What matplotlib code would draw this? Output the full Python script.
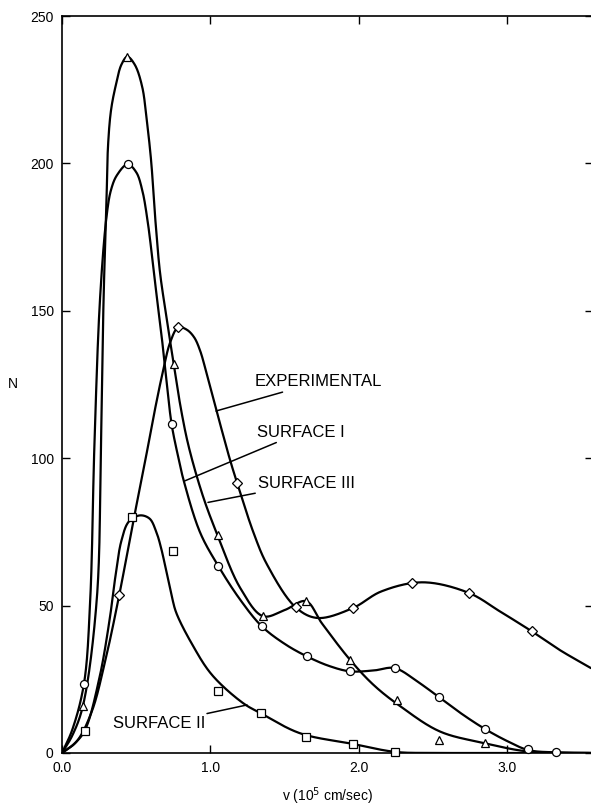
import numpy as np
import matplotlib
matplotlib.use("Agg")
import matplotlib.pyplot as plt

plt.rcParams['font.family'] = ['Liberation Sans', 'DejaVu Sans']

# ---- smooth curves (knots) ----
exp_cx = [0.0, 0.1, 0.2, 0.29, 0.386, 0.47, 0.56, 0.62, 0.68, 0.73, 0.783, 0.84, 0.89,
          0.93, 0.97, 1.01, 1.06, 1.13, 1.18, 1.29, 1.38, 1.574, 1.72, 1.96, 2.15, 2.43,
          2.74, 2.95, 3.163, 3.35, 3.562]
exp_cy = [0.0, 4.0, 14.0, 31.0, 53.7, 76.0, 99.0, 115.0, 129.5, 139.5, 144.4, 143.6, 141.0,
          136.5, 129.5, 121.8, 112.5, 99.7, 91.5, 74.7, 64.0, 49.4, 45.8, 49.2, 54.8, 57.9,
          54.3, 48.0, 41.3, 35.0, 28.8]

s1_cx = [0.0, 0.07, 0.148, 0.19, 0.218, 0.256, 0.30, 0.33, 0.37, 0.442, 0.50, 0.54, 0.575,
         0.61, 0.64, 0.673, 0.70, 0.738, 0.78, 0.817, 0.93, 1.053, 1.2, 1.345, 1.5, 1.648,
         1.8, 1.94, 2.1, 2.24, 2.4, 2.54, 2.7, 2.85, 3.0, 3.14, 3.33, 3.562]
s1_cy = [0.0, 8.0, 23.5, 52.0, 104.0, 154.0, 182.0, 191.0, 196.0, 199.7, 197.0, 191.0, 181.0,
         167.0, 154.0, 140.5, 128.0, 111.6, 101.0, 92.9, 74.8, 63.4, 52.0, 43.0, 37.0, 32.8,
         29.5, 27.7, 28.0, 28.8, 24.0, 18.9, 13.0, 8.1, 4.0, 1.0, 0.2, 0.0]

s3_cx = [0.0, 0.07, 0.14, 0.234, 0.262, 0.28, 0.30, 0.31, 0.33, 0.36, 0.40, 0.44, 0.49,
         0.54, 0.57, 0.60, 0.63, 0.66, 0.70, 0.752, 0.80, 0.853, 0.95, 1.048, 1.2, 1.354,
         1.5, 1.643, 1.75, 1.94, 2.1, 2.28, 2.545, 2.85, 3.14, 3.562]
s3_cy = [0.0, 6.0, 15.8, 52.0, 104.0, 154.0, 188.0, 206.0, 218.0, 226.0, 233.5, 236.2, 233.5,
         226.0, 215.0, 201.0, 180.0, 163.0, 149.0, 132.0, 117.0, 104.0, 87.0, 73.8, 56.0, 46.4,
         48.5, 51.5, 44.0, 31.6, 23.0, 15.8, 7.3, 3.3, 0.5, 0.0]

s2_cx = [0.0, 0.08, 0.153, 0.25, 0.32, 0.36, 0.40, 0.45, 0.525, 0.59, 0.635, 0.67, 0.705,
         0.74, 0.77, 0.875, 1.01, 1.22, 1.338, 1.603, 1.957, 2.24, 2.5, 3.562]
s2_cy = [0.0, 3.0, 7.6, 25.0, 45.0, 60.0, 72.0, 78.5, 80.6, 79.5, 75.0, 69.0, 61.0,
         53.0, 47.5, 37.0, 26.5, 16.9, 13.5, 6.7, 3.1, 0.4, 0.0, 0.0]

# ---- plotted data points ----
exp_px = [0.386, 0.783, 1.18, 1.574, 1.96, 2.355, 2.74, 3.163]
exp_py = [53.7, 144.4, 91.5, 49.4, 49.2, 57.5, 54.3, 41.3]

s1_px = [0.148, 0.442, 0.738, 1.053, 1.345, 1.648, 1.94, 2.24, 2.54, 2.85, 3.14, 3.33]
s1_py = [23.5, 199.7, 111.6, 63.4, 43.0, 32.8, 27.7, 28.8, 18.9, 8.1, 1.3, 0.2]

s3_px = [0.14, 0.44, 0.752, 1.048, 1.354, 1.643, 1.94, 2.254, 2.54, 2.85]
s3_py = [15.8, 236.2, 132.0, 73.8, 46.4, 51.5, 31.6, 18.0, 4.4, 3.3]

s2_px = [0.153, 0.47, 0.75, 1.053, 1.338, 1.643, 1.957, 2.24]
s2_py = [7.6, 80.0, 68.4, 20.9, 13.5, 5.3, 3.1, 0.4]

x_ticks = [0.0, 1.0, 2.0, 3.0]
x_ticklabels = ["0.0", "1.0", "2.0", "3.0"]
y_ticks = [0, 50, 100, 150, 200, 250]


def smooth_curve(xk, yk, sx=148.5, sy=2.94, n=40, alpha=0.5):
    """Centripetal Catmull-Rom spline through the knots (in a roughly isotropic frame)."""
    P = np.column_stack([np.asarray(xk, float) * sx, np.asarray(yk, float) * sy])
    P = np.vstack([2 * P[0] - P[1], P, 2 * P[-1] - P[-2]])
    pieces = []
    for i in range(1, len(P) - 2):
        p0, p1, p2, p3 = P[i - 1], P[i], P[i + 1], P[i + 2]
        t0 = 0.0
        t1 = t0 + max(np.linalg.norm(p1 - p0), 1e-9) ** alpha
        t2 = t1 + max(np.linalg.norm(p2 - p1), 1e-9) ** alpha
        t3 = t2 + max(np.linalg.norm(p3 - p2), 1e-9) ** alpha
        t = np.linspace(t1, t2, n)[:, None]
        A1 = (t1 - t) / (t1 - t0) * p0 + (t - t0) / (t1 - t0) * p1
        A2 = (t2 - t) / (t2 - t1) * p1 + (t - t1) / (t2 - t1) * p2
        A3 = (t3 - t) / (t3 - t2) * p2 + (t - t2) / (t3 - t2) * p3
        B1 = (t2 - t) / (t2 - t0) * A1 + (t - t0) / (t2 - t0) * A2
        B2 = (t3 - t) / (t3 - t1) * A2 + (t - t1) / (t3 - t1) * A3
        C = (t2 - t) / (t2 - t1) * B1 + (t - t1) / (t2 - t1) * B2
        pieces.append(C)
    C = np.vstack(pieces)
    return C[:, 0] / sx, np.maximum(C[:, 1] / sy, 0.0)


fig = plt.figure(figsize=(5.91, 8.06), dpi=100)
ax = fig.add_axes([62 / 591, 53 / 806, 531 / 591, 737 / 806])

lw = 1.6
for cx, cy in [(exp_cx, exp_cy), (s1_cx, s1_cy), (s3_cx, s3_cy), (s2_cx, s2_cy)]:
    xs, ys = smooth_curve(cx, cy)
    ax.plot(xs, ys, color='black', lw=lw, solid_capstyle='round',
            solid_joinstyle='round', zorder=2)

mk = dict(linestyle='none', markerfacecolor='white', markeredgecolor='black',
          markeredgewidth=0.9, zorder=3, clip_on=False)
ax.plot(exp_px, exp_py, marker='D', markersize=5.5, **mk)
ax.plot(s1_px, s1_py, marker='o', markersize=5.8, **mk)
ax.plot(s3_px, s3_py, marker='^', markersize=6.2, **mk)
ax.plot(s2_px, s2_py, marker='s', markersize=5.6, **mk)

# curve labels with leader lines
lab = dict(fontsize=12, color='black', va='center', ha='left')
leader = dict(arrowstyle='-', lw=1.1, color='black', shrinkA=0, shrinkB=0)
ax.annotate("EXPERIMENTAL", xy=(1.037, 116.0), xytext=(1.30, 125.9),
            arrowprops=leader, **lab)
ax.annotate("SURFACE I", xy=(0.822, 92.2), xytext=(1.313, 108.8),
            arrowprops=leader, **lab)
ax.annotate("SURFACE III", xy=(0.983, 85.0), xytext=(1.32, 91.5),
            arrowprops=leader, **lab)
ax.annotate("SURFACE II", xy=(1.246, 16.3), xytext=(0.343, 9.9),
            arrowprops=leader, **lab)

ax.set_xlim(0, 3.576)
ax.set_ylim(0, 250)
ax.set_xticks(x_ticks)
ax.set_xticklabels(x_ticklabels)
ax.set_yticks(y_ticks)
ax.tick_params(direction='in', length=6, width=1.0, labelsize=10,
               top=True, right=True, pad=6)
for sp in ax.spines.values():
    sp.set_linewidth(1.2)

ax.set_ylabel("N", rotation=0, fontsize=10, va='center')
ax.yaxis.set_label_coords(-0.092, 0.5)
ax.set_xlabel(r"v (10$^5$ cm/sec)", fontsize=10, va='center')
ax.xaxis.set_label_coords(0.5, -0.058)

fig.savefig("out.png", dpi=100)
